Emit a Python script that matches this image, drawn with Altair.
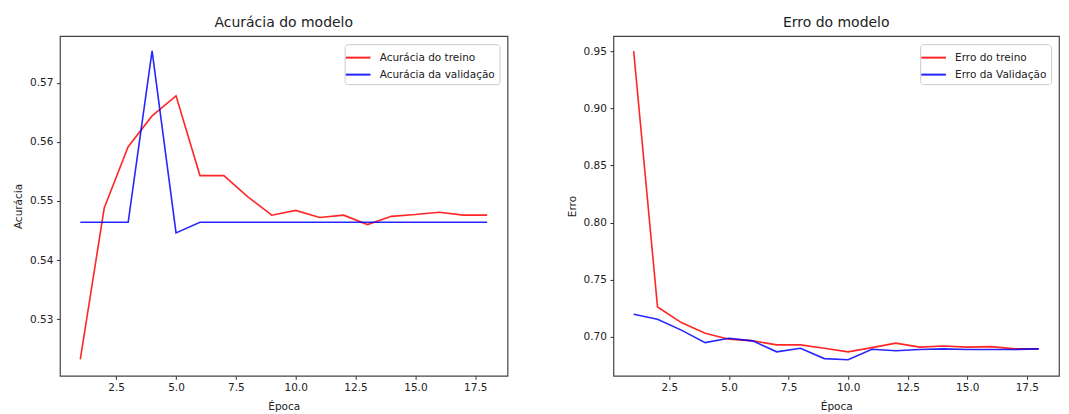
import altair as alt
import pandas as pd

epochs = list(range(1, 19))
acc_train = [0.5232, 0.5488, 0.5592, 0.5644, 0.5678, 0.5543, 0.5543, 0.5507, 0.5476,
             0.5484, 0.5472, 0.5476, 0.5460, 0.5474, 0.5477, 0.5481, 0.5476, 0.5476]
acc_val = [0.5464, 0.5464, 0.5464, 0.5754, 0.5446, 0.5464, 0.5464, 0.5464, 0.5464,
           0.5464, 0.5464, 0.5464, 0.5464, 0.5464, 0.5464, 0.5464, 0.5464, 0.5464]
loss_train = [0.950, 0.7262, 0.7125, 0.7032, 0.698, 0.6965, 0.693, 0.693, 0.690,
              0.6869, 0.6906, 0.6945, 0.691, 0.692, 0.691, 0.6915, 0.6895, 0.6895]
loss_val = [0.7198, 0.7155, 0.7059, 0.695, 0.6988, 0.6965, 0.6869, 0.690, 0.681,
            0.680, 0.6892, 0.6878, 0.689, 0.6895, 0.689, 0.689, 0.689, 0.6895]

acc_names = ["Acurácia do treino", "Acurácia da validação"]
loss_names = ["Erro do treino", "Erro da Validação"]
x_ticks = [2.5, 5.0, 7.5, 10.0, 12.5, 15.0, 17.5]
acc_ticks = [0.53, 0.54, 0.55, 0.56, 0.57]
loss_ticks = [0.70, 0.75, 0.80, 0.85, 0.90, 0.95]

FONT = "DejaVu Sans"
TXT = "#222222"


def long_df(a, b, names):
    rows = []
    for e, v in zip(epochs, a):
        rows.append({"epoch": e, "value": v, "serie": names[0]})
    for e, v in zip(epochs, b):
        rows.append({"epoch": e, "value": v, "serie": names[1]})
    return pd.DataFrame(rows)


def panel(df, names, title, ylabel, ydomain, yticks, w):
    return alt.Chart(df, title=alt.Title(title, fontSize=14, font=FONT, fontWeight="normal",
                                         color=TXT, offset=6)).mark_line(
        strokeWidth=1.6, opacity=0.85
    ).encode(
        x=alt.X("epoch:Q", title="Época",
                scale=alt.Scale(domain=[0.15, 18.85], nice=False, zero=False),
                axis=alt.Axis(values=x_ticks, format=".1f", grid=False, domain=False,
                              tickSize=3.5, labelPadding=3.5, titlePadding=8,
                              tickColor="#333", labelColor=TXT, titleColor=TXT,
                              labelFont=FONT, titleFont=FONT, labelFontSize=10.5,
                              titleFontSize=10.5, titleFontWeight="normal")),
        y=alt.Y("value:Q", title=ylabel,
                scale=alt.Scale(domain=ydomain, nice=False, zero=False),
                axis=alt.Axis(values=yticks, format=".2f", grid=False, domain=False,
                              tickSize=3.5, labelPadding=3.5, titlePadding=6,
                              tickColor="#333", labelColor=TXT, titleColor=TXT,
                              labelFont=FONT, titleFont=FONT, labelFontSize=10.5,
                              titleFontSize=10.5, titleFontWeight="normal")),
        color=alt.Color("serie:N", sort=names,
                        scale=alt.Scale(domain=names, range=["#ff0000", "#0000ff"]),
                        legend=alt.Legend(title=None, orient="top-right", offset=8,
                                          symbolType="M-1.45,0L1.45,0", symbolSize=289,
                                          symbolStrokeWidth=2, rowPadding=2,
                                          labelFont=FONT, labelFontSize=10.5,
                                          labelColor=TXT, fillColor="white",
                                          strokeColor="#cccccc", cornerRadius=3,
                                          padding=4, labelOffset=12)),
    ).properties(width=w, height=340)


left = panel(long_df(acc_train, acc_val, acc_names), acc_names, "Acurácia do modelo",
             "Acurácia", [0.5204, 0.5779], acc_ticks, 448)
right = panel(long_df(loss_train, loss_val, loss_names), loss_names, "Erro do modelo",
              "Erro", [0.6659, 0.9631], loss_ticks, 446)

chart = alt.hconcat(left, right, spacing=58).resolve_scale(color="independent").properties(
    padding={"left": 5, "top": 7, "right": 1, "bottom": 0},
    background="white",
).configure_view(stroke="#444444", strokeWidth=1.2)

chart.save("out.html", embed_options={"renderer": "svg", "actions": False})
